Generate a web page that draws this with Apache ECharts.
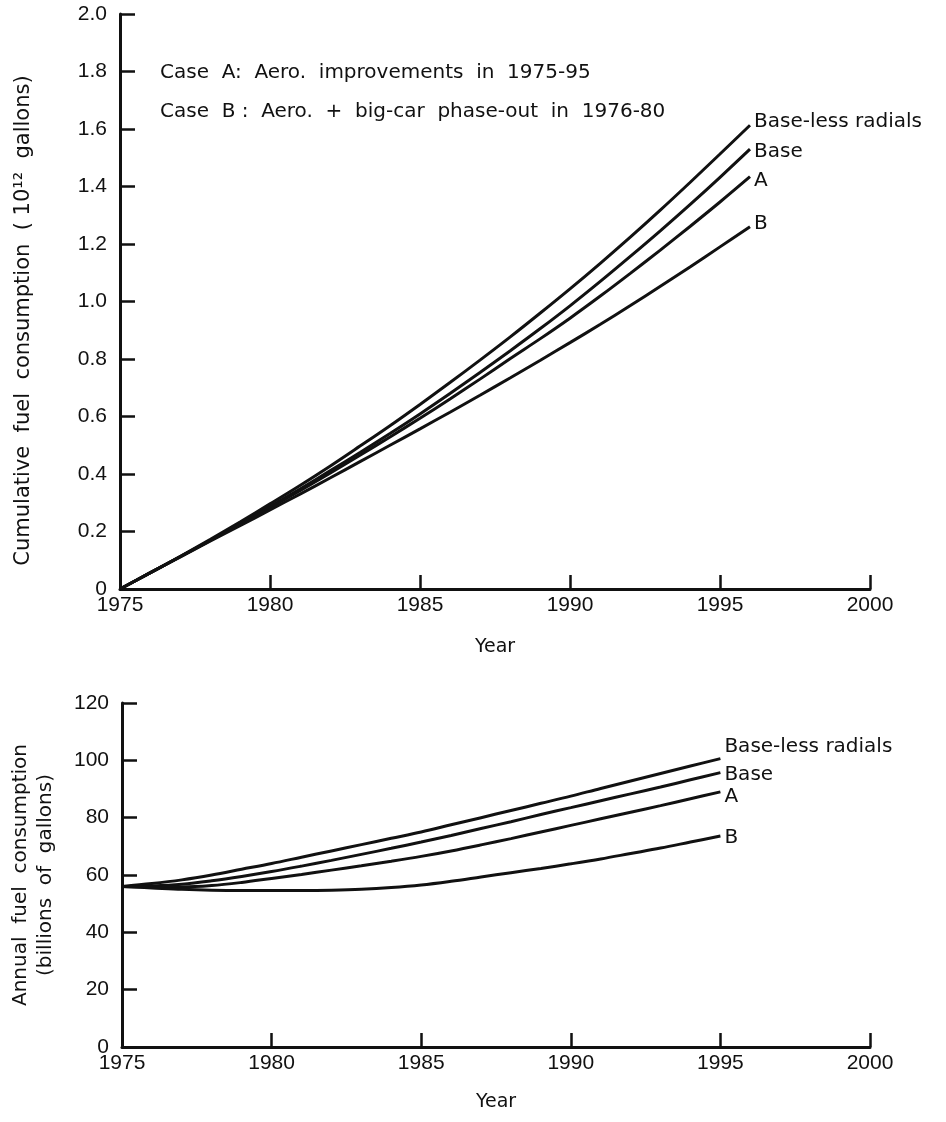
<!DOCTYPE html>
<html>
<head>
<meta charset="utf-8">
<script src="https://cdn.jsdelivr.net/npm/echarts@6/dist/echarts.min.js"></script>
<style>
  html, body { margin: 0; padding: 0; background: #fff; }
  #chart { width: 946px; height: 1122px; }
</style>
</head>
<body>
<div id="chart"></div>
<script>
// Years on the horizontal axes
const cumYears = [1975,1976,1977,1978,1979,1980,1981,1982,1983,1984,1985,1986,1987,1988,1989,1990,1991,1992,1993,1994,1995,1996];
const annYears = [1975,1976,1977,1978,1979,1980,1981,1982,1983,1984,1985,1986,1987,1988,1989,1990,1991,1992,1993,1994,1995];

// Cumulative fuel consumption, 10^12 gallons
const cumBaseLess = [0,0.056,0.113,0.172,0.233,0.296,0.36,0.427,0.497,0.568,0.642,0.718,0.796,0.876,0.959,1.044,1.132,1.223,1.317,1.414,1.513,1.613];
const cumBase     = [0,0.056,0.112,0.169,0.227,0.287,0.348,0.411,0.475,0.541,0.609,0.68,0.753,0.828,0.905,0.985,1.069,1.156,1.245,1.337,1.432,1.53];
const cumA        = [0,0.056,0.112,0.168,0.225,0.283,0.342,0.403,0.465,0.529,0.594,0.661,0.73,0.801,0.87,0.942,1.018,1.097,1.178,1.261,1.346,1.434];
const cumB        = [0,0.056,0.111,0.166,0.22,0.275,0.33,0.386,0.443,0.5,0.557,0.615,0.674,0.734,0.795,0.857,0.92,0.985,1.052,1.12,1.19,1.26];

// Annual fuel consumption, billions of gallons
const annBaseLess = [56,57,58.3,60,62,64,66.2,68.4,70.6,72.8,75,77.5,80,82.5,85,87.5,90.2,92.8,95.4,98,100.6];
const annBase     = [56,56.2,56.8,58,59.5,61.2,63.1,65.1,67.2,69.3,71.5,73.8,76.2,78.6,81.1,83.5,85.9,88.3,90.7,93.2,95.7];
const annA        = [56,55.8,55.8,56.3,57.4,58.8,60.2,61.7,63.2,64.8,66.5,68.4,70.5,72.7,75,77.3,79.6,81.9,84.2,86.6,89];
const annB        = [56,55.5,55,54.7,54.6,54.6,54.6,54.7,55,55.6,56.5,57.8,59.3,60.8,62.3,63.9,65.6,67.5,69.4,71.5,73.6];

const seriesNames = ['Base-less radials', 'Base', 'A', 'B'];
const caseNotes = [
  'Case  A:  Aero.  improvements  in  1975-95',
  'Case  B :  Aero.  +  big-car  phase-out  in  1976-80'
];

const INK = '#111';
const FONT = 'DejaVu Sans';
const NUMFONT = 'Liberation Sans';

function pairs(xs, ys) { return ys.map((v, i) => [xs[i], v]); }

function xAxisFor(gridIndex, gap) {
  return {
    type: 'value', gridIndex, min: 1975, max: 2000, interval: 5,
    name: 'Year', nameLocation: 'middle', nameGap: gap,
    nameTextStyle: { fontFamily: FONT, fontSize: 19, color: INK },
    axisLine: { show: true, lineStyle: { color: INK, width: 3 } },
    axisTick: { show: true, inside: true, length: 14, lineStyle: { color: INK, width: 2.5 } },
    axisLabel: { fontFamily: NUMFONT, fontSize: 21, color: INK, margin: 6, formatter: v => String(v) },
    splitLine: { show: false }
  };
}

function lineSeries(name, xIdx, data, offset) {
  return {
    type: 'line', name, xAxisIndex: xIdx, yAxisIndex: xIdx,
    data, smooth: 0.35, symbol: 'none', silent: true,
    lineStyle: { color: INK, width: 3 },
    endLabel: {
      show: true, formatter: name, color: INK, fontFamily: FONT, fontSize: 20,
      distance: 4, offset
    }
  };
}

const chart = echarts.init(document.getElementById('chart'), null, { renderer: 'canvas' });

chart.setOption({
  backgroundColor: '#fff',
  animation: false,
  grid: [
    { left: 120, top: 14, width: 750, height: 575 },
    { left: 120, top: 703, width: 750, height: 344 }
  ],
  xAxis: [xAxisFor(0, 49), xAxisFor(1, 46)],
  yAxis: [
    {
      type: 'value', gridIndex: 0, min: 0, max: 2.0, interval: 0.2,
      name: 'Cumulative  fuel  consumption  ( 10¹²  gallons)',
      nameLocation: 'middle', nameGap: 86, nameRotate: 90,
      nameTextStyle: { fontFamily: FONT, fontSize: 21, color: INK, padding: [0, 38, 0, 0] },
      axisLine: { show: true, lineStyle: { color: INK, width: 3 } },
      axisTick: { show: true, inside: true, length: 15, lineStyle: { color: INK, width: 2.5 } },
      axisLabel: { fontFamily: NUMFONT, fontSize: 21, color: INK, margin: 13,
        formatter: v => (v === 0 ? '0' : v.toFixed(1)) },
      splitLine: { show: false }
    },
    {
      type: 'value', gridIndex: 1, min: 0, max: 120, interval: 20,
      name: 'Annual  fuel  consumption\n(billions  of  gallons)',
      nameLocation: 'middle', nameGap: 64, nameRotate: 90,
      nameTextStyle: { fontFamily: FONT, fontSize: 20, color: INK, lineHeight: 25 },
      axisLine: { show: true, lineStyle: { color: INK, width: 3 } },
      axisTick: { show: true, inside: true, length: 15, lineStyle: { color: INK, width: 2.5 } },
      axisLabel: { fontFamily: NUMFONT, fontSize: 21, color: INK, margin: 13 },
      splitLine: { show: false }
    }
  ],
  series: [
    lineSeries(seriesNames[0], 0, pairs(cumYears, cumBaseLess), [0, -3]),
    lineSeries(seriesNames[1], 0, pairs(cumYears, cumBase), [0, 3]),
    lineSeries(seriesNames[2], 0, pairs(cumYears, cumA), [0, 4]),
    lineSeries(seriesNames[3], 0, pairs(cumYears, cumB), [0, -3]),
    lineSeries(seriesNames[0], 1, pairs(annYears, annBaseLess), [0, -12]),
    lineSeries(seriesNames[1], 1, pairs(annYears, annBase), [0, 2]),
    lineSeries(seriesNames[2], 1, pairs(annYears, annA), [0, 5]),
    lineSeries(seriesNames[3], 1, pairs(annYears, annB), [0, 2])
  ],
  graphic: caseNotes.map((t, i) => ({
    type: 'text', left: 160, top: 63 + i * 39, silent: true,
    style: { text: t, fontFamily: FONT, fontSize: 20, fill: INK }
  }))
});
</script>
</body>
</html>
